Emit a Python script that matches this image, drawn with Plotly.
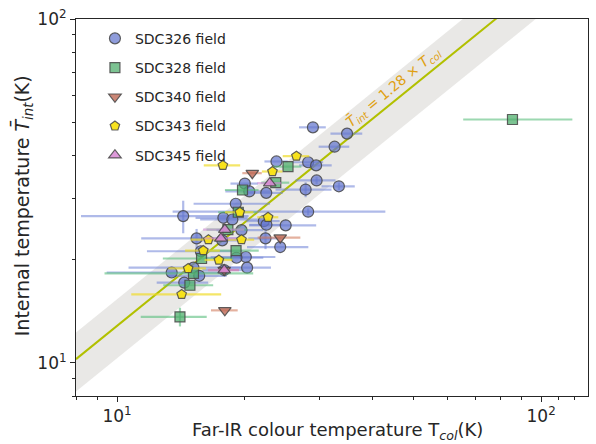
import math
import plotly.graph_objects as go

# ---- data: far-IR colour temperature (x) vs internal temperature (y), in K ----
sdc326_x = [28.96, 34.86, 32.58, 23.76, 28.22, 29.47, 29.55, 33.35, 27.84, 22.48, 20.01, 20.50,
            19.05, 14.32, 17.81, 18.70, 28.22, 22.18, 22.50, 24.98, 19.65, 15.40, 22.39, 24.25,
            20.12, 19.12, 20.26, 17.89, 13.45, 15.14, 15.62, 14.40, 15.76, 17.70]
sdc326_y = [48.4, 46.4, 42.5, 38.5, 38.3, 37.5, 33.9, 32.6, 31.9, 31.2, 33.2, 31.5,
            29.0, 26.7, 26.4, 26.1, 27.5, 25.8, 25.2, 25.1, 24.3, 23.0, 23.0, 21.7,
            20.3, 20.2, 18.9, 18.6, 18.3, 18.9, 17.9, 17.1, 21.1, 22.7]
sdc326_xerr = [2.1, 3.0, 2.7, 1.5, 2.4, 2.6, 3.2, 3.0, 4.2, 2.1, 1.5, 2.5,
               3.9, 6.1, 2.5, 3.0, 14.7, 2.0, 2.0, 4.5, 2.5, 4.0, 2.0, 4.0,
               3.5, 3.0, 2.8, 2.0, 4.0, 4.5, 2.5, 2.0, 4.0, 2.0]
sdc326_yerr = [0, 0, 0, 0, 0, 0, 0.8, 0.8, 1.6, 0, 0, 0,
               0, 2.9, 0, 0, 0.6, 0, 0, 0, 0, 1.5, 1.6, 0,
               0, 0, 0, 0, 0, 0, 0, 0, 0, 0]

sdc328_x = [85.6, 25.30, 23.67, 19.76, 19.31, 18.25, 19.08, 15.82, 15.14, 14.85, 14.07]
sdc328_y = [51.0, 37.2, 33.4, 31.8, 27.4, 24.4, 21.2, 20.1, 18.2, 16.8, 13.6]
sdc328_xerr_lo = [20.1, 1.9, 1.8, 1.8, 2.0, 2.0, 2.5, 3.0, 5.8, 2.0, 2.7]
sdc328_xerr_hi = [32.9, 1.9, 1.8, 1.8, 2.0, 2.0, 2.5, 3.0, 5.8, 2.0, 2.2]
sdc328_yerr = [0, 0, 0, 0, 0, 0, 0, 0, 0, 0, 0.85]

sdc340_x = [20.84, 24.25, 17.95, 17.89]
sdc340_y = [35.6, 23.1, 14.2, 18.6]
sdc340_xerr = [1.1, 2.8, 1.3, 1.5]

sdc343_x = [26.48, 23.25, 17.76, 19.47, 22.70, 19.65, 16.42, 17.38, 15.97, 14.71, 14.20]
sdc343_y = [39.9, 36.0, 37.5, 27.4, 26.5, 22.8, 22.8, 19.9, 21.2, 18.8, 15.8]
sdc343_xerr = [1.9, 1.3, 1.75, 1.5, 1.3, 1.4, 1.5, 1.3, 1.5, 1.5, 3.4]

sdc345_x = [22.91, 17.95, 17.57, 17.89]
sdc345_y = [33.3, 24.4, 23.0, 18.6]
sdc345_xerr = [1.5, 2.0, 1.5, 1.5]

# fitted ratio T_int / T_col and its spread
ratio = 1.28
ratio_spread = 0.25

x_min, x_max = 8, 129
y_min, y_max = 8, 100

FONT = "DejaVu Sans"
INK = "#262626"
EDGE = dict(color="rgba(70,70,70,0.85)", width=1.2)

fig = go.Figure()

# shaded band around the fitted relation
band_x = [x_min, x_max]
fig.add_trace(go.Scatter(x=band_x, y=[(ratio - ratio_spread) * v for v in band_x],
                         mode="lines", line=dict(width=0, color="rgba(0,0,0,0)"),
                         showlegend=False, hoverinfo="skip"))
fig.add_trace(go.Scatter(x=band_x, y=[(ratio + ratio_spread) * v for v in band_x],
                         mode="lines", line=dict(width=0, color="rgba(0,0,0,0)"),
                         fill="tonexty", fillcolor="rgba(215,213,210,0.55)",
                         showlegend=False, hoverinfo="skip"))
# fitted relation
fig.add_trace(go.Scatter(x=band_x, y=[ratio * v for v in band_x], mode="lines",
                         line=dict(color="#b2c000", width=2),
                         showlegend=False, hoverinfo="skip"))


def add_field(name, xs, ys, xerr, symbol, size, fill, barcolor, yerr=None, xerr_lo=None):
    ex = dict(type="data", array=xerr, color=barcolor, thickness=2.2, width=0)
    if xerr_lo is not None:
        ex["symmetric"] = False
        ex["arrayminus"] = xerr_lo
    ey = dict(type="data", array=yerr if yerr is not None else [0] * len(ys),
              color=barcolor, thickness=2.2, width=0)
    fig.add_trace(go.Scatter(
        x=xs, y=ys, mode="markers", name=name, legendgroup=name,
        marker=dict(symbol=symbol, size=size, color=fill, line=EDGE),
        error_x=ex, error_y=ey,
    ))


add_field("SDC326 field", sdc326_x, sdc326_y, sdc326_xerr, "circle", 11,
          "rgba(100,118,205,0.72)", "rgba(110,130,215,0.55)", yerr=sdc326_yerr)
add_field("SDC328 field", sdc328_x, sdc328_y, sdc328_xerr_hi, "square", 10,
          "rgba(80,175,110,0.75)", "rgba(90,190,125,0.6)", yerr=sdc328_yerr,
          xerr_lo=sdc328_xerr_lo)
add_field("SDC340 field", sdc340_x, sdc340_y, sdc340_xerr, "triangle-down", 11,
          "rgba(190,105,85,0.8)", "rgba(210,125,95,0.6)")
add_field("SDC343 field", sdc343_x, sdc343_y, sdc343_xerr, "pentagon", 10,
          "rgba(248,225,20,0.95)", "rgba(240,220,40,0.7)")
add_field("SDC345 field", sdc345_x, sdc345_y, sdc345_xerr, "triangle-up", 11,
          "rgba(215,135,210,0.85)", "rgba(210,140,220,0.6)")

# label along the fitted line
angle = math.degrees(math.atan(349 / 425))
lab_x = 45.6
fig.add_annotation(x=math.log10(lab_x), y=math.log10(ratio * lab_x), xref="x", yref="y",
                   text="<i>T̄</i><sub><i>int</i></sub> = 1.28 × <i>T</i><sub><i>col</i></sub>",
                   showarrow=False, textangle=-angle, yshift=12, xshift=-3,
                   font=dict(family=FONT, size=14, color="#e0a010"))

# axis titles
fig.add_annotation(x=0.222, y=-0.093, xref="paper", yref="paper", xanchor="left", yanchor="middle",
                   text="Far-IR colour temperature T<sub><i>col</i></sub>(K)", showarrow=False,
                   font=dict(family=FONT, size=18, color=INK))
fig.add_annotation(x=-0.105, y=0.504, xref="paper", yref="paper", xanchor="center", yanchor="middle",
                   text="Internal temperature <i>T̄</i><sub><i>int</i></sub>(K)", showarrow=False,
                   textangle=-90, font=dict(family=FONT, size=19, color=INK))

axis_common = dict(
    type="log", showgrid=False, zeroline=False, showline=True, linecolor=INK,
    linewidth=1.1, mirror=True, ticks="outside", ticklen=5, tickwidth=1, tickcolor=INK,
    tickfont=dict(family=FONT, size=17, color=INK),
)
minor_vals = [8, 9, 20, 30, 40, 50, 60, 70, 80, 90, 110, 120]

fig.update_xaxes(**axis_common, range=[math.log10(x_min), math.log10(x_max)],
                 tickvals=[10, 100], ticktext=["10<sup>1</sup>", "10<sup>2</sup>"],
                 minor=dict(tickvals=minor_vals, ticks="outside", ticklen=3, tickcolor=INK))
fig.update_yaxes(**axis_common, range=[math.log10(y_min), math.log10(y_max)],
                 tickvals=[10, 100], ticktext=["10<sup>1</sup>", "10<sup>2</sup>"],
                 minor=dict(tickvals=minor_vals, ticks="outside", ticklen=3, tickcolor=INK))

fig.update_layout(
    width=596, height=444,
    margin=dict(l=76, r=7, t=13, b=48),
    paper_bgcolor="white", plot_bgcolor="white",
    font=dict(family=FONT, color=INK),
    legend=dict(x=0.037, y=0.99, xanchor="left", yanchor="top",
                bgcolor="rgba(0,0,0,0)", font=dict(family=FONT, size=14, color=INK),
                tracegroupgap=8, traceorder="grouped"),
)

fig.write_html("out.html")
